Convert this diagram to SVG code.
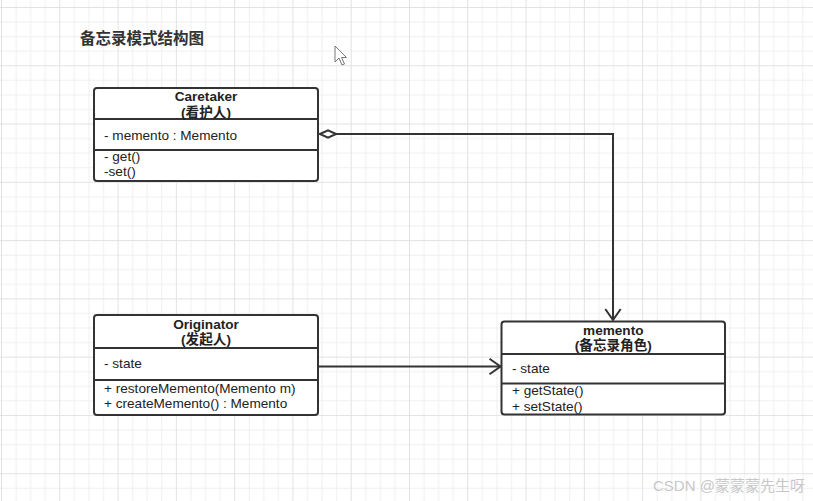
<svg xmlns="http://www.w3.org/2000/svg" width="813" height="501" viewBox="0 0 813 501">
  <style>
    .box { fill: #ffffff; stroke: #333333; stroke-width: 2; }
    .div { stroke: #333333; stroke-width: 2; }
    .t { font-family: "Liberation Sans", "Noto Sans CJK SC", sans-serif; font-size: 13.6px; fill: #222222; }
    .h { font-weight: bold; text-anchor: middle; }
    .conn { fill: none; stroke: #333333; stroke-width: 2; }
  </style>
  <defs>
    <pattern id="grid" patternUnits="userSpaceOnUse" x="1.02" y="6.99" width="58.28" height="58.28">
      <rect x="14.57" y="0" width="1" height="58.28" fill="#efefef"/>
      <rect x="29.14" y="0" width="1" height="58.28" fill="#efefef"/>
      <rect x="43.71" y="0" width="1" height="58.28" fill="#efefef"/>
      <rect x="0" y="14.57" width="58.28" height="1" fill="#efefef"/>
      <rect x="0" y="29.14" width="58.28" height="1" fill="#efefef"/>
      <rect x="0" y="43.71" width="58.28" height="1" fill="#efefef"/>
      <rect x="0" y="0" width="1" height="58.28" fill="#e2e2e2"/>
      <rect x="0" y="0" width="58.28" height="1" fill="#e2e2e2"/>
    </pattern>
    <marker id="diamond" markerUnits="userSpaceOnUse" viewBox="-1 -5 18 10" refX="0" refY="0" markerWidth="18" markerHeight="10" orient="auto">
      <path d="M0,0 L8,-3.7 L16,0 L8,3.7 Z" fill="#ffffff" stroke="#333333" stroke-width="2"/>
    </marker>
    <marker id="open" markerUnits="userSpaceOnUse" viewBox="-13 -10 15 20" refX="0" refY="0" markerWidth="15" markerHeight="20" orient="auto">
      <path d="M-11,-7.7 L0,0 L-11,7.7" fill="none" stroke="#333333" stroke-width="2"/>
    </marker>
  </defs>

  <rect x="0" y="0" width="813" height="501" fill="#ffffff"/>
  <rect x="0" y="0" width="813" height="501" fill="url(#grid)"/>

  <text class="t" x="80" y="44" style="font-size:15.5px;font-weight:bold;fill:#333333">备忘录模式结构图</text>

  <g id="connectors">
    <path class="conn" d="M320,134 H613 V320" marker-start="url(#diamond)" marker-end="url(#open)"/>
    <path class="conn" d="M318,366.5 H500.5" marker-end="url(#open)"/>
  </g>

  <g id="caretaker">
    <rect class="box" x="94" y="88" width="224" height="93" rx="3"/>
    <line class="div" x1="94" y1="119" x2="318" y2="119"/>
    <line class="div" x1="94" y1="150" x2="318" y2="150"/>
    <text class="t h" x="206" y="101">Caretaker</text>
    <text class="t h" x="206" y="116.5">(看护人)</text>
    <text class="t" x="104" y="139.5">- memento : Memento</text>
    <text class="t" x="104" y="160.5">- get()</text>
    <text class="t" x="104" y="176">-set()</text>
  </g>

  <g id="originator">
    <rect class="box" x="94" y="315" width="224" height="100" rx="3"/>
    <line class="div" x1="94" y1="348" x2="318" y2="348"/>
    <line class="div" x1="94" y1="380" x2="318" y2="380"/>
    <text class="t h" x="206" y="328.5">Originator</text>
    <text class="t h" x="206" y="344">(发起人)</text>
    <text class="t" x="104" y="367.5">- state</text>
    <text class="t" x="104" y="392.5">+ restoreMemento(Memento m)</text>
    <text class="t" x="104" y="408">+ createMemento() : Memento</text>
  </g>

  <g id="memento">
    <rect class="box" x="501.5" y="321.5" width="223.5" height="93" rx="3"/>
    <line class="div" x1="501.5" y1="354" x2="725" y2="354"/>
    <line class="div" x1="501.5" y1="383.5" x2="725" y2="383.5"/>
    <text class="t h" x="613.3" y="334.5">memento</text>
    <text class="t h" x="613.3" y="350">(备忘录角色)</text>
    <text class="t" x="512" y="373">- state</text>
    <text class="t" x="512" y="395">+ getState()</text>
    <text class="t" x="512" y="410.5">+ setState()</text>
  </g>

  <polygon points="335,46 335,62 339,58 342,65 344.5,64 341.5,57.5 346.5,57.5" fill="#ffffff" stroke="#777777" stroke-width="1"/>

  <text x="653" y="491" style="font-family:'Liberation Sans','Noto Sans CJK SC',sans-serif;font-size:15px;fill:#c8c8c8">CSDN @蒙蒙蒙先生呀</text>
</svg>
